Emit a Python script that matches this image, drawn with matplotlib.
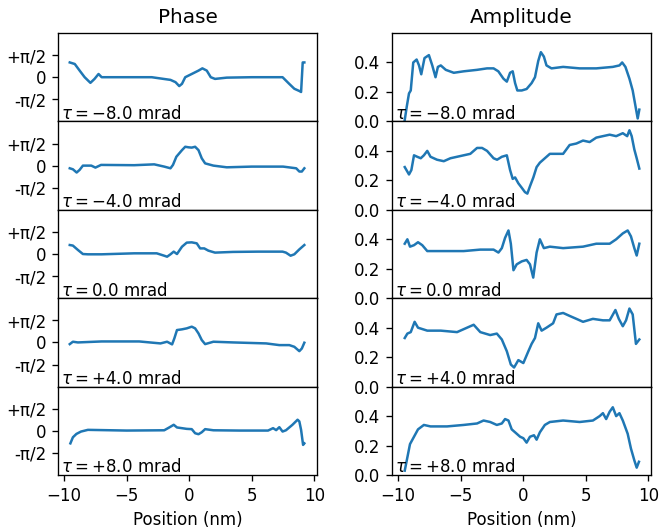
import numpy as np
import matplotlib
matplotlib.use("Agg")
import matplotlib.pyplot as plt

# tilt angles (mrad)
taus = ["$\\tau = -8.0$ mrad", "$\\tau = -4.0$ mrad", "$\\tau = 0.0$ mrad",
        "$\\tau = +4.0$ mrad", "$\\tau = +8.0$ mrad"]

# phase profiles (rad)
ph1_x = [-9.55, -9.15, -8.76, -8.36, -7.9, -7.57, -7.25, -7.0, -5.0, -3.0, -1.5, -1.1, -0.8, -0.58,
         -0.32, 0.2, 0.74, 1.05, 1.4, 1.72, 2.06, 3.0, 5.0, 7.46, 7.99, 8.4, 8.8, 8.94, 9.07, 9.2]
ph1_y = [1.05, 0.94, 0.47, 0.0, -0.40, -0.12, 0.23, 0.0, 0.0, 0.0, -0.19, -0.35, -0.63, -0.47,
         0.0, 0.23, 0.47, 0.63, 0.47, 0.0, -0.12, -0.03, 0.0, 0.0, -0.47, -0.82, -0.98, -1.05, 1.05, 1.05]

ph2_x = [-9.55, -9.3, -9.0, -8.76, -8.5, -7.83, -7.5, -7.05, -4.4, -2.8, -2.0, -1.5, -1.3, -1.03,
         -0.58, -0.32, -0.05, 0.2, 0.47, 0.74, 1.0, 1.27, 1.93, 3.0, 5.0, 7.5, 8.55, 8.8, 9.0, 9.2]
ph2_y = [-0.19, -0.26, -0.49, -0.30, 0.0, 0.0, -0.14, 0.05, 0.03, 0.09, -0.07, -0.19, 0.05, 0.63,
         1.1, 1.34, 1.3, 1.28, 1.34, 1.1, 0.52, 0.16, 0.0, -0.12, -0.07, -0.07, -0.19, -0.42, -0.42, -0.19]

ph3_x = [-9.55, -9.3, -8.9, -8.5, -8.1, -7.0, -4.4, -2.6, -2.0, -1.77, -1.5, -1.24, -0.98, -0.58,
         -0.2, 0.2, 0.6, 0.87, 1.2, 1.53, 2.06, 3.5, 5.5, 7.46, 7.73, 8.1, 8.4, 8.8, 9.2]
ph3_y = [0.64, 0.6, 0.29, 0.0, -0.02, -0.02, 0.05, 0.05, -0.12, -0.19, -0.02, 0.17, 0.0, 0.52,
         0.81, 0.83, 0.76, 0.40, 0.40, 0.24, 0.10, 0.15, 0.17, 0.17, 0.10, -0.12, -0.02, 0.33, 0.64]

ph4_x = [-9.55, -9.3, -8.9, -7.0, -4.0, -2.3, -1.77, -1.37, -1.19, -0.98, -0.58, -0.2, 0.2, 0.47,
         0.74, 1.0, 1.27, 1.93, 3.5, 6.15, 7.2, 8.0, 8.4, 8.8, 9.0, 9.2]
ph4_y = [-0.12, 0.05, 0.0, 0.07, 0.07, -0.07, 0.05, -0.14, 0.29, 0.88, 0.93, 1.0, 1.12, 1.0,
         0.64, 0.17, -0.12, 0.05, 0.0, -0.07, -0.19, -0.19, -0.31, -0.62, -0.43, -0.02]

ph5_x = [-9.5, -9.3, -9.02, -8.65, -8.1, -5.0, -2.0, -1.6, -1.24, -0.98, -0.2, 0.2, 0.47, 0.74,
         1.0, 1.27, 1.93, 4.0, 6.3, 6.7, 6.95, 7.2, 7.46, 7.73, 8.25, 8.66, 8.8, 8.94, 9.1, 9.2]
ph5_y = [-0.89, -0.46, -0.22, -0.05, 0.07, 0.02, 0.04, 0.24, 0.43, 0.24, 0.14, 0.12, -0.17, -0.24,
         -0.10, 0.12, 0.04, 0.02, 0.02, 0.19, 0.05, 0.26, -0.05, 0.04, 0.43, 0.79, 0.67, 0.07, -1.0, -0.89]

# amplitude profiles
am1_x = [-9.48, -9.32, -9.14, -9.0, -8.8, -8.53, -8.34, -8.16, -7.9, -7.55, -7.28, -7.02, -6.83, -6.6,
         -6.2, -5.56, -4.77, -3.7, -2.9, -2.38, -2.0, -1.59, -1.32, -1.06, -0.85, -0.66, -0.48, -0.13,
         0.26, 0.66, 0.93, 1.19, 1.4, 1.64, 1.85, 2.25, 3.18, 4.5, 5.83, 7.15, 7.68, 7.9, 8.16, 8.48,
         8.74, 8.95, 9.14, 9.27]
am1_y = [0.01, 0.10, 0.19, 0.21, 0.40, 0.42, 0.38, 0.32, 0.43, 0.45, 0.38, 0.30, 0.37, 0.38,
         0.35, 0.33, 0.34, 0.35, 0.36, 0.36, 0.34, 0.29, 0.27, 0.33, 0.34, 0.26, 0.21, 0.21,
         0.22, 0.26, 0.30, 0.41, 0.47, 0.44, 0.38, 0.36, 0.37, 0.36, 0.36, 0.37, 0.38, 0.40, 0.37, 0.29,
         0.21, 0.11, 0.02, 0.08]

am2_x = [-9.48, -9.14, -8.95, -8.74, -8.48, -8.2, -7.95, -7.68, -7.42, -6.9, -6.36, -5.83, -5.3, -4.77,
         -4.24, -3.7, -3.3, -2.9, -2.38, -2.1, -1.72, -1.32, -1.06, -0.85, -0.66, -0.4, -0.13, 0.13,
         0.32, 0.53, 0.8, 1.06, 1.32, 1.72, 2.12, 2.65, 3.18, 3.7, 4.24, 4.77, 5.3, 5.83, 6.36, 6.9,
         7.42, 7.95, 8.3, 8.48, 8.66, 8.87, 9.06, 9.27]
am2_y = [0.29, 0.24, 0.27, 0.37, 0.36, 0.35, 0.37, 0.40, 0.36, 0.34, 0.33, 0.35, 0.36, 0.37,
         0.38, 0.42, 0.42, 0.40, 0.35, 0.34, 0.36, 0.37, 0.27, 0.21, 0.22, 0.18, 0.15, 0.12,
         0.11, 0.16, 0.22, 0.29, 0.32, 0.35, 0.38, 0.38, 0.38, 0.44, 0.45, 0.47, 0.46, 0.49, 0.50, 0.51,
         0.50, 0.52, 0.50, 0.54, 0.50, 0.41, 0.35, 0.28]

am3_x = [-9.48, -9.27, -9.06, -8.74, -8.42, -8.08, -7.68, -7.15, -6.1, -4.77, -3.44, -2.38, -1.99, -1.72,
         -1.46, -1.19, -1.0, -0.79, -0.53, -0.13, 0.26, 0.53, 0.79, 1.06, 1.32, 1.64, 2.12, 3.18, 4.77,
         5.83, 6.9, 7.42, 7.95, 8.34, 8.6, 8.87, 9.06, 9.27]
am3_y = [0.37, 0.40, 0.35, 0.36, 0.38, 0.36, 0.32, 0.32, 0.32, 0.32, 0.33, 0.33, 0.31, 0.34,
         0.41, 0.46, 0.37, 0.19, 0.23, 0.25, 0.26, 0.23, 0.14, 0.31, 0.40, 0.34, 0.35, 0.34, 0.35,
         0.37, 0.37, 0.40, 0.44, 0.46, 0.42, 0.34, 0.29, 0.37]

am4_x = [-9.48, -9.27, -9.0, -8.69, -8.42, -7.68, -6.6, -5.3, -3.97, -3.44, -2.65, -2.12, -1.72, -1.32,
         -1.0, -0.74, -0.4, 0.0, 0.4, 0.66, 0.93, 1.19, 1.46, 1.85, 2.38, 2.65, 3.18, 3.7, 4.24, 4.77,
         5.56, 6.36, 6.9, 7.36, 7.63, 7.95, 8.21, 8.48, 8.74, 9.0, 9.27]
am4_y = [0.33, 0.36, 0.37, 0.44, 0.40, 0.38, 0.38, 0.37, 0.42, 0.37, 0.35, 0.36, 0.32, 0.24,
         0.15, 0.13, 0.18, 0.16, 0.24, 0.29, 0.33, 0.43, 0.38, 0.40, 0.43, 0.49, 0.50, 0.48, 0.46, 0.44,
         0.46, 0.45, 0.45, 0.52, 0.46, 0.41, 0.45, 0.53, 0.49, 0.29, 0.32]

am5_x = [-9.48, -9.27, -9.06, -8.74, -8.42, -7.95, -7.42, -6.1, -4.77, -3.7, -3.18, -2.65, -2.12, -1.72,
         -1.46, -1.19, -0.93, -0.66, -0.26, 0.0, 0.26, 0.53, 0.85, 1.06, 1.32, 1.72, 2.12, 3.18, 4.5,
         5.56, 6.1, 6.36, 6.62, 6.9, 7.15, 7.42, 7.68, 7.95, 8.34, 8.6, 8.87, 9.06, 9.24]
am5_y = [0.03, 0.12, 0.21, 0.26, 0.31, 0.34, 0.33, 0.33, 0.34, 0.35, 0.37, 0.36, 0.34, 0.35,
         0.38, 0.37, 0.31, 0.29, 0.26, 0.25, 0.22, 0.26, 0.27, 0.24, 0.29, 0.34, 0.36, 0.37, 0.36,
         0.37, 0.40, 0.42, 0.38, 0.43, 0.46, 0.40, 0.42, 0.37, 0.28, 0.18, 0.10, 0.05, 0.09]

phase = [(ph1_x, ph1_y), (ph2_x, ph2_y), (ph3_x, ph3_y), (ph4_x, ph4_y), (ph5_x, ph5_y)]
amp = [(am1_x, am1_y), (am2_x, am2_y), (am3_x, am3_y), (am4_x, am4_y), (am5_x, am5_y)]

fig, axes = plt.subplots(5, 2, sharex=True, figsize=(659 / 120, 529 / 120), dpi=120)
fig.subplots_adjust(left=0.088, right=0.988, top=0.9376, bottom=0.102, hspace=0, wspace=0.29)

for i in range(5):
    ax = axes[i, 0]
    ax.plot(phase[i][0], phase[i][1], color='tab:blue')
    ax.set_ylim(-np.pi, np.pi)
    ax.set_yticks([-np.pi / 2, 0, np.pi / 2])
    ax.set_yticklabels(['-π/2', '0', '+π/2'])
    ax.text(0.01, 0.03, taus[i], transform=ax.transAxes, va='baseline')

    ax2 = axes[i, 1]
    ax2.plot(amp[i][0], amp[i][1], color='tab:blue')
    ax2.set_ylim(0, 0.6)
    ax2.set_yticks([0.0, 0.2, 0.4])
    ax2.text(0.01, 0.03, taus[i], transform=ax2.transAxes, va='baseline')

axes[0, 0].set_title('Phase')
axes[0, 1].set_title('Amplitude')
axes[4, 0].set_xlabel('Position (nm)')
axes[4, 1].set_xlabel('Position (nm)')
axes[4, 0].set_xticks([-10, -5, 0, 5, 10])

plt.savefig("out.png")
